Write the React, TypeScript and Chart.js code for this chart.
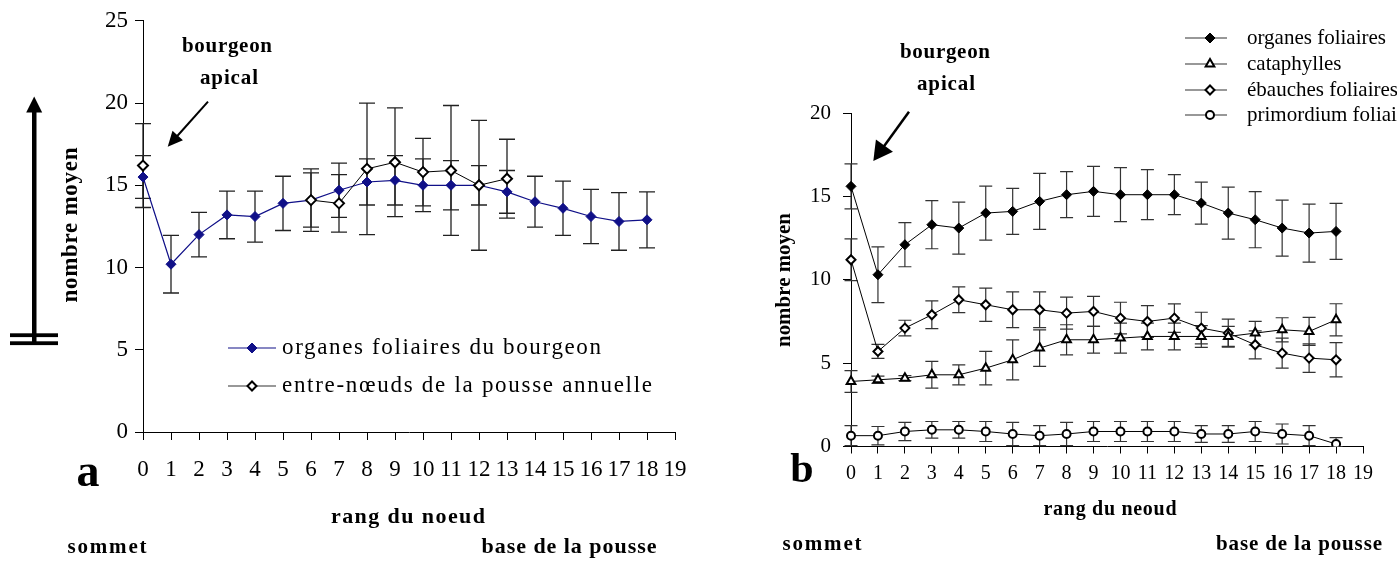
import React, { useEffect, useRef } from 'react';
import { Chart, registerables } from 'chart.js';

Chart.register(...registerables);

// ---------- DATA ----------
const nodeRanks = ['0', '1', '2', '3', '4', '5', '6', '7', '8', '9', '10', '11', '12', '13', '14', '15', '16', '17', '18', '19'];

// panel a
const organesBourgeon = [15.5, 10.2, 12.0, 13.2, 13.1, 13.9, 14.1, 14.7, 15.2, 15.3, 15.0, 15.0, 15.0, 14.6, 14.0, 13.6, 13.1, 12.8, 12.9];
const organesBourgeonErr = [1.3, 1.75, 1.35, 1.45, 1.55, 1.65, 1.65, 1.65, 1.4, 1.5, 1.6, 1.5, 1.2, 1.3, 1.55, 1.65, 1.65, 1.75, 1.7];
const entreNoeuds = [16.2, null, null, null, null, null, 14.1, 13.9, 16.0, 16.4, 15.8, 15.9, 15.0, 15.4, null, null, null, null, null];
const entreNoeudsErr = [2.55, null, null, null, null, null, 1.9, 1.75, 4.0, 3.3, 2.05, 3.95, 3.95, 2.4, null, null, null, null, null];
const yTicksA = [0, 5, 10, 15, 20, 25];

// panel b
const organesFoliaires = [15.6, 10.3, 12.1, 13.3, 13.1, 14.0, 14.1, 14.7, 15.1, 15.3, 15.1, 15.1, 15.1, 14.6, 14.0, 13.6, 13.1, 12.8, 12.9];
const organesFoliairesErr = [1.35, 1.67, 1.32, 1.44, 1.56, 1.62, 1.38, 1.68, 1.38, 1.5, 1.62, 1.5, 1.2, 1.26, 1.56, 1.68, 1.68, 1.74, 1.68];
const cataphylles = [3.9, 4.0, 4.1, 4.3, 4.3, 4.7, 5.2, 5.9, 6.4, 6.4, 6.5, 6.6, 6.6, 6.6, 6.6, 6.8, 7.0, 6.9, 7.6];
const cataphyllesErr = [0.65, 0.22, 0.15, 0.8, 0.6, 1.0, 1.2, 1.1, 0.9, 0.8, 0.9, 0.8, 0.8, 0.65, 0.6, 0.7, 0.72, 0.84, 0.96];
const ebauches = [11.2, 5.7, 7.1, 7.9, 8.8, 8.5, 8.2, 8.2, 8.0, 8.1, 7.7, 7.5, 7.7, 7.1, 6.8, 6.1, 5.6, 5.3, 5.2];
const ebauchesErr = [1.25, 0.42, 0.47, 0.83, 0.77, 1.0, 1.07, 1.07, 0.96, 0.9, 0.95, 0.95, 0.85, 0.95, 0.84, 0.84, 0.9, 0.85, 1.03];
const primordium = [0.65, 0.65, 0.9, 1.0, 1.0, 0.9, 0.75, 0.65, 0.75, 0.9, 0.9, 0.9, 0.9, 0.75, 0.75, 0.9, 0.75, 0.65, 0.15];
const primordiumErr = [0.6, 0.55, 0.55, 0.5, 0.5, 0.6, 0.7, 0.6, 0.7, 0.6, 0.6, 0.6, 0.6, 0.5, 0.5, 0.6, 0.6, 0.6, 0.38];
const yTicksB = [0, 5, 10, 15, 20];

const SERIF = "'Liberation Serif', 'Times New Roman', serif";
const NAVY = '#101088';

// ---------- helpers ----------
function fitText(ctx: any, text: string, x: number, y: number, font: string, width?: number, align = 'center', baseline = 'middle') {
  ctx.save();
  ctx.font = font;
  ctx.textBaseline = baseline;
  ctx.textAlign = 'left';
  ctx.fillStyle = '#000';
  const w = ctx.measureText(text).width;
  const tw = width ?? w;
  const left = align === 'center' ? x - tw / 2 : x;
  if (width && text.length > 1) {
    const s = (width - w) / (text.length - 1);
    if (s >= 0) {
      ctx.letterSpacing = s + 'px';
      ctx.fillText(text, left, y);
      ctx.letterSpacing = '0px';
    } else {
      ctx.translate(left, y);
      ctx.scale(width / w, 1);
      ctx.fillText(text, 0, 0);
    }
  } else {
    ctx.fillText(text, left, y);
  }
  ctx.restore();
}

function rotText(ctx: any, text: string, cx: number, cy: number, font: string, width: number) {
  ctx.save();
  ctx.translate(cx, cy);
  ctx.rotate(-Math.PI / 2);
  fitText(ctx, text, 0, 0, font, width);
  ctx.restore();
}

function arrow(ctx: any, x1: number, y1: number, x2: number, y2: number, headLen: number, headHalf: number, lw: number) {
  const dx = x2 - x1, dy = y2 - y1;
  const L = Math.hypot(dx, dy);
  const ux = dx / L, uy = dy / L;
  const bx = x2 - ux * headLen, by = y2 - uy * headLen;
  ctx.save();
  ctx.strokeStyle = '#000';
  ctx.fillStyle = '#000';
  ctx.lineWidth = lw;
  ctx.beginPath();
  ctx.moveTo(x1, y1);
  ctx.lineTo(bx + ux * 2, by + uy * 2);
  ctx.stroke();
  ctx.beginPath();
  ctx.moveTo(x2, y2);
  ctx.lineTo(bx - uy * headHalf, by + ux * headHalf);
  ctx.lineTo(bx + uy * headHalf, by - ux * headHalf);
  ctx.closePath();
  ctx.fill();
  ctx.restore();
}

function marker(ctx: any, style: string, x: number, y: number, r: number, fill: string, stroke: string, lw: number) {
  ctx.save();
  ctx.fillStyle = fill;
  ctx.strokeStyle = stroke;
  ctx.lineWidth = lw;
  ctx.beginPath();
  if (style === 'rectRot') {
    ctx.moveTo(x - r, y); ctx.lineTo(x, y - r); ctx.lineTo(x + r, y); ctx.lineTo(x, y + r); ctx.closePath();
  } else if (style === 'triangle') {
    const a = -Math.PI / 2;
    for (let k = 0; k < 3; k++) {
      const ang = a + (k * 2 * Math.PI) / 3;
      const px = x + Math.cos(ang) * r, py = y + Math.sin(ang) * r;
      if (k === 0) ctx.moveTo(px, py); else ctx.lineTo(px, py);
    }
    ctx.closePath();
  } else {
    ctx.arc(x, y, r, 0, Math.PI * 2);
  }
  ctx.fill();
  if (lw > 0) ctx.stroke();
  ctx.restore();
}

function legendLine(ctx: any, x1: number, x2: number, y: number, color: string) {
  ctx.save();
  ctx.strokeStyle = color;
  ctx.lineWidth = 1.2;
  ctx.beginPath();
  ctx.moveTo(x1, y);
  ctx.lineTo(x2, y);
  ctx.stroke();
  ctx.restore();
}

const errorBarsPlugin = {
  id: 'errorBars',
  beforeDatasetsDraw(chart: any, _args: any, opts: any) {
    const ctx = chart.ctx;
    const ys = chart.scales.y;
    const half = opts.capHalf ?? 7;
    ctx.save();
    ctx.strokeStyle = opts.color ?? '#222';
    ctx.lineWidth = opts.width ?? 1.2;
    chart.data.datasets.forEach((ds: any, i: number) => {
      const errs = ds.errors;
      if (!errs) return;
      const meta = chart.getDatasetMeta(i);
      meta.data.forEach((pt: any, j: number) => {
        const v = ds.data[j];
        const e = errs[j];
        if (v == null || e == null) return;
        const x = pt.x;
        const yt = ys.getPixelForValue(v + e);
        const yb = ys.getPixelForValue(Math.max(0, v - e));
        ctx.beginPath();
        ctx.moveTo(x, yt); ctx.lineTo(x, yb);
        ctx.moveTo(x - half, yt); ctx.lineTo(x + half, yt);
        ctx.moveTo(x - half, yb); ctx.lineTo(x + half, yb);
        ctx.stroke();
      });
    });
    ctx.restore();
  },
};

const annotationsA = {
  id: 'annotationsA',
  afterDraw(chart: any) {
    const ctx = chart.ctx;
    const B = (s: number) => `bold ${s}px ${SERIF}`;
    const R = (s: number) => `${s}px ${SERIF}`;
    fitText(ctx, 'bourgeon', 227, 47, B(21), 90);
    fitText(ctx, 'apical', 229, 79, B(21), 58);
    arrow(ctx, 208, 101.7, 167.7, 146.7, 15, 7, 2);
    // big vertical arrow with double bar
    ctx.save();
    ctx.fillStyle = '#000';
    ctx.fillRect(32, 110, 4.5, 235);
    ctx.beginPath();
    ctx.moveTo(34.2, 96.5); ctx.lineTo(26.2, 112.5); ctx.lineTo(42.2, 112.5); ctx.closePath();
    ctx.fill();
    ctx.fillRect(10, 333.3, 48, 3.8);
    ctx.fillRect(10, 341.3, 48, 3.8);
    ctx.restore();
    rotText(ctx, 'nombre moyen', 71, 225, B(23), 155);
    // legend
    legendLine(ctx, 228, 276, 348, NAVY);
    marker(ctx, 'rectRot', 252, 348, 5, NAVY, NAVY, 1);
    fitText(ctx, 'organes foliaires du bourgeon', 282, 348, R(23), 319, 'left');
    legendLine(ctx, 228, 276, 386, '#333');
    marker(ctx, 'rectRot', 252, 386, 4.5, '#fff', '#000', 2);
    fitText(ctx, 'entre-nœuds de la pousse annuelle', 282, 386, R(23), 370, 'left');
    fitText(ctx, 'a', 88, 486, B(46), undefined, 'center', 'alphabetic');
    fitText(ctx, 'rang du noeud', 408, 517, B(22), 154);
    fitText(ctx, 'sommet', 107, 548, B(21), 79);
    fitText(ctx, 'base de la pousse', 569, 547, B(22), 175);
  },
};

const OFF_B = 720;
const annotationsB = {
  id: 'annotationsB',
  afterDraw(chart: any) {
    const ctx = chart.ctx;
    const X = (p: number) => p - OFF_B;
    const B = (s: number) => `bold ${s}px ${SERIF}`;
    const R = (s: number) => `${s}px ${SERIF}`;
    fitText(ctx, 'bourgeon', X(945), 53, B(21), 90);
    fitText(ctx, 'apical', X(946), 85, B(21), 58);
    arrow(ctx, X(909), 111.7, X(873.3), 161, 19, 10.5, 2.5);
    rotText(ctx, 'nombre moyen', X(785), 280, B(21), 134);
    fitText(ctx, 'b', X(802), 482, B(42), undefined, 'center', 'alphabetic');
    fitText(ctx, 'rang du neoud', X(1110), 510, B(20), 133);
    fitText(ctx, 'sommet', X(822), 545, B(21), 79);
    fitText(ctx, 'base de la pousse', X(1299), 545, B(21), 166);
    // legend
    const lx1 = X(1185), lx2 = X(1227), mx = X(1210), tx = X(1247);
    const rows: [number, string, string, string][] = [
      [38, 'rectRot', '#000', 'organes foliaires'],
      [64, 'triangle', '#fff', 'cataphylles'],
      [90, 'rectRot', '#fff', 'ébauches foliaires'],
      [115, 'circle', '#fff', 'primordium foliaire'],
    ];
    rows.forEach(([y, st, fill, label], k) => {
      legendLine(ctx, lx1, lx2, y, '#333');
      const r = st === 'circle' ? 4 : st === 'triangle' ? 5 : k === 0 ? 5 : 4.5;
      marker(ctx, st, mx, y, r, fill, '#000', k === 0 ? 1 : 2);
      fitText(ctx, label, tx, y, R(21), undefined, 'left');
    });
  },
};

function axisCommon(fontSize: number, pad: number, tickLen: number) {
  return {
    grid: { display: true, drawOnChartArea: false, drawTicks: true, tickLength: tickLen, color: '#000', lineWidth: 1 },
    border: { display: true, color: '#000', width: 1 },
    ticks: { color: '#000', font: { family: SERIF, size: fontSize }, padding: pad, autoSkip: false, maxRotation: 0, minRotation: 0 },
  };
}

function makeA(canvas: HTMLCanvasElement) {
  const xa = axisCommon(23, 16, 8);
  const ya = axisCommon(23, 7, 8);
  return new Chart(canvas, {
    type: 'line',
    data: {
      labels: nodeRanks,
      datasets: [
        {
          label: 'entre-nœuds de la pousse annuelle', data: entreNoeuds, errors: entreNoeudsErr,
          borderColor: '#000', borderWidth: 1, pointStyle: 'rectRot', pointRadius: 5,
          pointBackgroundColor: '#fff', pointBorderColor: '#000', pointBorderWidth: 2, spanGaps: false, tension: 0,
        } as any,
        {
          label: 'organes foliaires du bourgeon', data: organesBourgeon, errors: organesBourgeonErr,
          borderColor: NAVY, borderWidth: 1.2, pointStyle: 'rectRot', pointRadius: 5,
          pointBackgroundColor: NAVY, pointBorderColor: NAVY, pointBorderWidth: 1, tension: 0,
        } as any,
      ],
    },
    options: {
      animation: false,
      responsive: false,
      layout: { padding: { top: 20, right: 45, left: 0, bottom: 0 } },
      plugins: { legend: { display: false }, tooltip: { enabled: false }, errorBars: { capHalf: 8, color: '#222', width: 1.3 } } as any,
      scales: {
        x: { type: 'category', offset: false, ...xa, afterFit: (s: any) => { s.height = 129; } } as any,
        y: {
          min: 0, max: 25, ...ya,
          afterBuildTicks: (s: any) => { s.ticks = yTicksA.map((v) => ({ value: v })); },
          afterFit: (s: any) => { s.width = 143; },
        } as any,
      },
    },
    plugins: [errorBarsPlugin, annotationsA],
  });
}

function makeB(canvas: HTMLCanvasElement) {
  const xa = axisCommon(20, 8, 7);
  const ya = axisCommon(21, 12, 8);
  const open = (label: string, data: any, errors: any, style: string, r: number) => ({
    label, data, errors, borderColor: '#000', borderWidth: 1, pointStyle: style, pointRadius: r,
    pointBackgroundColor: '#fff', pointBorderColor: '#000', pointBorderWidth: 2, tension: 0,
  });
  return new Chart(canvas, {
    type: 'line',
    data: {
      labels: nodeRanks,
      datasets: [
        {
          label: 'organes foliaires', data: organesFoliaires, errors: organesFoliairesErr,
          borderColor: '#000', borderWidth: 1, pointStyle: 'rectRot', pointRadius: 5,
          pointBackgroundColor: '#000', pointBorderColor: '#000', pointBorderWidth: 1, tension: 0,
        } as any,
        open('cataphylles', cataphylles, cataphyllesErr, 'triangle', 5) as any,
        open('ébauches foliaires', ebauches, ebauchesErr, 'rectRot', 4.5) as any,
        open('primordium foliaire', primordium, primordiumErr, 'circle', 4) as any,
      ],
    },
    options: {
      animation: false,
      responsive: false,
      layout: { padding: { top: 113, right: 34, left: 0, bottom: 0 } },
      plugins: { legend: { display: false }, tooltip: { enabled: false }, errorBars: { capHalf: 6.5, color: '#333', width: 1.2 } } as any,
      scales: {
        x: { type: 'category', offset: false, ...xa, afterFit: (s: any) => { s.height = 114.5; } } as any,
        y: {
          min: 0, max: 20, ...ya,
          afterBuildTicks: (s: any) => { s.ticks = yTicksB.map((v) => ({ value: v })); },
          afterFit: (s: any) => { s.width = 131; },
        } as any,
      },
    },
    plugins: [errorBarsPlugin, annotationsB],
  });
}

export default function App() {
  const refA = useRef<HTMLCanvasElement>(null);
  const refB = useRef<HTMLCanvasElement>(null);
  useEffect(() => {
    const a = makeA(refA.current!);
    const b = makeB(refB.current!);
    return () => { a.destroy(); b.destroy(); };
  }, []);
  return (
    <div style={{ position: 'absolute', left: 0, top: 0, width: 1397, height: 561, background: '#fff', overflow: 'hidden' }}>
      <canvas ref={refA} width={720} height={561} style={{ position: 'absolute', left: 0, top: 0, width: 720, height: 561 }} />
      <canvas ref={refB} width={677} height={561} style={{ position: 'absolute', left: OFF_B, top: 0, width: 677, height: 561 }} />
    </div>
  );
}
